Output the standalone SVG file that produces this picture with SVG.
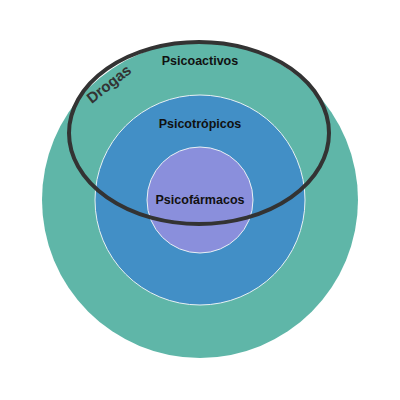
<svg xmlns="http://www.w3.org/2000/svg" width="400" height="400" viewBox="0 0 400 400">
<style>
text{font-family:"Liberation Sans",Arial,sans-serif;font-weight:bold;fill:#111;text-anchor:middle}
.lbl{font-size:12.5px}
</style>
<rect width="400" height="400" fill="#fff"/>
<g id="psicoactivos">
<circle cx="200" cy="200" r="158" fill="#5fb6a8"/>
<text class="lbl" x="200" y="65">Psicoactivos</text>
</g>
<g id="psicotropicos">
<circle cx="200" cy="200" r="105" fill="#428fc6" stroke="#e8f0f4" stroke-width="1"/>
<text class="lbl" x="200" y="128">Psicotrópicos</text>
</g>
<g id="psicofarmacos">
<circle cx="200" cy="200" r="53" fill="#8a8fdc" stroke="#e8f0f4" stroke-width="1"/>
<text class="lbl" x="200" y="204">Psicofármacos</text>
</g>
<g id="drogas">
<ellipse cx="199" cy="133" rx="130" ry="91" fill="none" stroke="#333" stroke-width="4"/>
<text x="112" y="88" font-size="15" style="fill:#333" transform="rotate(-38 112 88)">Drogas</text>
</g>
</svg>
